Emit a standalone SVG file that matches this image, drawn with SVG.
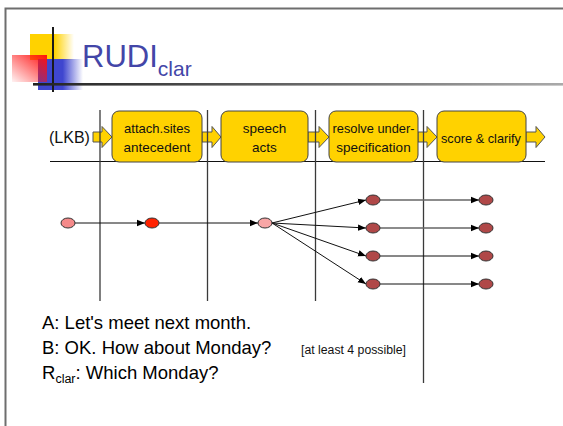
<svg xmlns="http://www.w3.org/2000/svg" width="563" height="426" viewBox="0 0 563 426">
  <defs>
    <linearGradient id="gYellow" x1="0" y1="0" x2="1" y2="0">
      <stop offset="0" stop-color="#FFD200"/>
      <stop offset="0.55" stop-color="#FFD200"/>
      <stop offset="1" stop-color="#FFD200" stop-opacity="0"/>
    </linearGradient>
    <linearGradient id="gBlue" x1="0" y1="0" x2="1" y2="0">
      <stop offset="0" stop-color="#3F46CF"/>
      <stop offset="0.55" stop-color="#3F46CF"/>
      <stop offset="1" stop-color="#3F46CF" stop-opacity="0"/>
    </linearGradient>
    <linearGradient id="gRed" x1="1" y1="0" x2="0" y2="1">
      <stop offset="0" stop-color="#FF1010"/>
      <stop offset="1" stop-color="#FF1010" stop-opacity="0.05"/>
    </linearGradient>
    <linearGradient id="gRule" x1="0" y1="0" x2="1" y2="0">
      <stop offset="0" stop-color="#222"/>
      <stop offset="1" stop-color="#aaa"/>
    </linearGradient>
    <marker id="ah" markerUnits="userSpaceOnUse" markerWidth="8" markerHeight="8" viewBox="0 0 8 8" refX="8" refY="4" orient="auto">
      <path d="M0,0.8 L8,4 L0,7.2 Z" fill="#000"/>
    </marker>
    <style>
      .frame { stroke: #6e6e6e; stroke-width: 2; fill: none; }
      .vline { stroke: #3a3a3a; stroke-width: 1.3; }
      .box { fill: #FFD200; stroke: #444; stroke-width: 1; }
      .blk { fill: #FFD200; stroke: #555; stroke-width: 1; }
      .lbl { font-family: "Liberation Sans", Arial, sans-serif; font-size: 13.5px; fill: #111; text-anchor: middle; }
      .edge { stroke: #111; stroke-width: 1; fill: none; marker-end: url(#ah); }
      .edge-g { stroke: #666; stroke-width: 1.6; fill: none; marker-end: url(#ah); }
      .node { stroke: #333; stroke-width: 1; }
      .txt { font-family: "Liberation Sans", Arial, sans-serif; font-size: 18.5px; fill: #000; }
    </style>
  </defs>

  <rect width="563" height="426" fill="#fff"/>

  <!-- slide frame -->
  <path class="frame" d="M5.5,426 L5.5,8.5 L563,8.5"/>

  <!-- title logo -->
  <g id="logo">
    <rect x="30" y="34" width="44" height="26" fill="url(#gYellow)"/>
    <rect x="38" y="59" width="45" height="31" fill="url(#gBlue)"/>
    <rect x="12" y="55" width="35" height="27" fill="url(#gRed)"/>
    <line x1="53" y1="27" x2="53" y2="92" stroke="#1a1a1a" stroke-width="2"/>
    <rect x="33" y="83" width="530" height="2.6" fill="url(#gRule)"/>
  </g>

  <text id="title" x="82" y="66.5" font-family="'Liberation Sans', Arial, sans-serif" font-size="31" fill="#4346A8">RUDI<tspan font-size="21" dy="9">clar</tspan></text>

  <!-- processing pipeline -->
  <line x1="50" y1="161.5" x2="545" y2="161.5" stroke="#111" stroke-width="1"/>

  <g id="arrows">
    <path class="blk" d="M93,132 H102 V126.5 L112,137 L102,147.5 V142 H93 Z"/>
    <path class="blk" d="M202,132 H212 V126.5 L221,137 L212,147.5 V142 H202 Z"/>
    <path class="blk" d="M308,132 H319 V126.5 L329,137 L319,147.5 V142 H308 Z"/>
    <path class="blk" d="M418,132 H427 V126.5 L437,137 L427,147.5 V142 H418 Z"/>
    <path class="blk" d="M526,132 H536 V126.5 L545,137 L536,147.5 V142 H526 Z"/>
  </g>

  <text id="lkb" x="49" y="142.5" font-family="'Liberation Sans', Arial, sans-serif" font-size="16" fill="#111">(LKB)</text>

  <g id="attach">
    <rect class="box" x="112" y="111" width="90" height="51" rx="7"/>
    <text class="lbl" x="157" y="133" textLength="66" lengthAdjust="spacingAndGlyphs">attach.sites</text>
    <text class="lbl" x="157" y="151.5">antecedent</text>
  </g>
  <g id="speech">
    <rect class="box" x="221" y="111" width="87" height="51" rx="7"/>
    <text class="lbl" x="264.5" y="133">speech</text>
    <text class="lbl" x="264.5" y="151.5">acts</text>
  </g>
  <g id="resolve">
    <rect class="box" x="329" y="111" width="89" height="51" rx="7"/>
    <text class="lbl" x="373.5" y="133" textLength="82" lengthAdjust="spacingAndGlyphs">resolve under-</text>
    <text class="lbl" x="373.5" y="151.5">specification</text>
  </g>
  <g id="score">
    <rect class="box" x="437" y="111" width="89" height="51" rx="7"/>
    <text class="lbl" x="481" y="142.5" textLength="80" lengthAdjust="spacingAndGlyphs">score &amp; clarify</text>
  </g>

  <!-- stage separators -->
  <g id="separators">
    <line class="vline" x1="100" y1="110" x2="100" y2="301"/>
    <line class="vline" x1="207.5" y1="110" x2="207.5" y2="301"/>
    <line class="vline" x1="315.5" y1="110" x2="315.5" y2="301"/>
    <line class="vline" x1="423.5" y1="110" x2="423.5" y2="383"/>
  </g>

  <!-- interpretation graph -->
  <g id="connectors">
    <line class="edge" x1="75" y1="223" x2="145" y2="223"/>
    <line class="edge" x1="159" y1="223" x2="258" y2="223"/>
    <line class="edge" x1="272" y1="223" x2="366" y2="200"/>
    <line class="edge" x1="272" y1="223" x2="366" y2="228"/>
    <line class="edge" x1="272" y1="223" x2="366" y2="256"/>
    <line class="edge" x1="272" y1="223" x2="366" y2="284"/>
    <line class="edge-g" x1="380" y1="200" x2="479" y2="200"/>
    <line class="edge-g" x1="380" y1="228" x2="479" y2="228"/>
    <line class="edge" x1="380" y1="256" x2="479" y2="256"/>
    <line class="edge" x1="380" y1="284" x2="479" y2="284"/>
  </g>

  <g id="n0"><ellipse class="node" cx="68" cy="223" rx="7" ry="5" fill="#F58A8A"/></g>
  <g id="n1"><ellipse class="node" cx="152" cy="223" rx="7" ry="5" fill="#FF2200"/></g>
  <g id="n2"><ellipse class="node" cx="265" cy="223" rx="7" ry="5" fill="#F8A6A6"/></g>
  <g id="n3"><ellipse class="node" cx="373" cy="200" rx="7" ry="5" fill="#B04848"/></g>
  <g id="n4"><ellipse class="node" cx="373" cy="228" rx="7" ry="5" fill="#B04848"/></g>
  <g id="n5"><ellipse class="node" cx="373" cy="256" rx="7" ry="5" fill="#B04848"/></g>
  <g id="n6"><ellipse class="node" cx="373" cy="284" rx="7" ry="5" fill="#B04848"/></g>
  <g id="n7"><ellipse class="node" cx="486" cy="200" rx="7" ry="5" fill="#B04848"/></g>
  <g id="n8"><ellipse class="node" cx="486" cy="228" rx="7" ry="5" fill="#B04848"/></g>
  <g id="n9"><ellipse class="node" cx="486" cy="256" rx="7" ry="5" fill="#B04848"/></g>
  <g id="n10"><ellipse class="node" cx="486" cy="284" rx="7" ry="5" fill="#B04848"/></g>

  <!-- dialogue example -->
  <g id="dialogue">
    <text class="txt" x="42" y="329">A: Let's meet next month.</text>
    <text class="txt" x="42" y="354">B: OK. How about Monday?</text>
    <text x="301" y="354" font-family="'Liberation Sans Narrow', 'Liberation Sans', Arial, sans-serif" font-size="12.5" fill="#111" textLength="105" lengthAdjust="spacingAndGlyphs">[at least 4 possible]</text>
    <text class="txt" x="42" y="379">R<tspan font-size="12.5" dy="4">clar</tspan><tspan dy="-4">: Which Monday?</tspan></text>
  </g>
</svg>
